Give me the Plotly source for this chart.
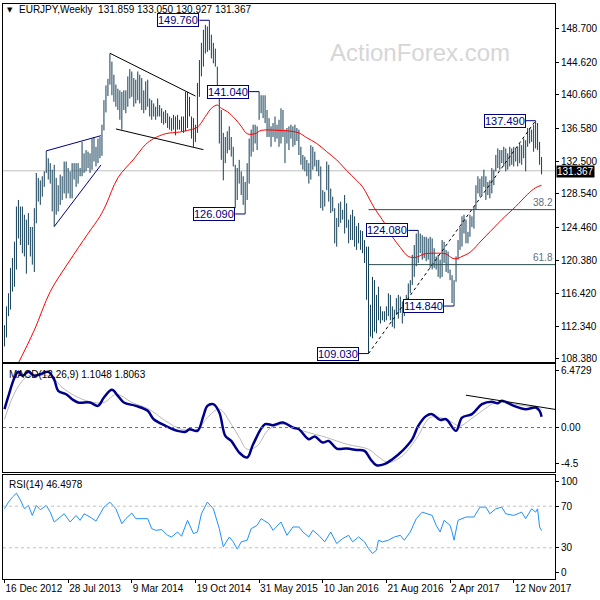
import pandas as pd
import plotly.graph_objects as go

# ---------------- data ----------------
start = pd.Timestamp("2012-12-16")

bar_high = [
    112.5, 114.8, 116.4, 119.5, 120.7, 122.7, 127.0, 127.8, 127.0, 127.0,
    126.0, 125.4, 126.2, 124.5, 124.5, 126.8, 131.1, 130.5, 130.2, 130.7,
    131.3, 133.8, 132.9, 132.3, 131.5, 132.1, 130.5, 129.6, 130.9, 130.7,
    132.5, 132.5, 131.7, 131.3, 132.3, 132.3, 132.3, 132.3, 131.7, 134.9,
    133.5, 133.9, 133.7, 133.5, 135.3, 135.5, 134.3, 135.3, 135.5, 137.0,
    140.0, 141.8, 142.6, 145.7, 144.7, 143.1, 141.9, 141.4, 141.2, 141.0,
    141.2, 141.2, 142.9, 143.8, 143.5, 142.7, 142.5, 143.5, 143.1, 142.7,
    141.2, 142.3, 142.5, 140.2, 140.0, 139.6, 139.2, 140.2, 139.4, 139.0,
    138.6, 138.8, 138.4, 138.0, 137.8, 138.2, 138.0, 138.2, 137.6, 138.0,
    138.0, 141.0, 141.0, 140.4, 138.0, 137.8, 137.0, 142.1, 144.9, 147.0,
    148.6, 149.2, 149.0, 149.76, 148.0, 147.0, 146.3, 144.1, 141.2, 138.8,
    136.0, 135.5, 136.2, 136.8, 135.5, 134.3, 132.1, 131.7, 132.7, 131.3,
    130.7, 130.0, 132.3, 135.3, 136.4, 137.0, 137.0, 136.8, 141.04, 140.6,
    140.6, 140.6, 138.8, 137.8, 136.8, 137.2, 138.0, 137.0, 137.6, 139.0,
    138.8, 136.4, 136.6, 136.8, 137.0, 136.8, 137.0, 136.6, 136.4, 134.3,
    133.3, 133.1, 132.7, 132.3, 134.5, 134.3, 133.7, 132.7, 132.7, 131.9,
    129.0, 128.8, 132.5, 132.1, 129.2, 128.2, 126.8, 125.6, 127.4, 127.6,
    126.6, 128.4, 127.4, 125.4, 126.0, 126.6, 125.8, 124.6, 125.0, 124.1,
    124.0, 122.9, 122.1, 122.1, 115.0, 118.4, 118.0, 116.2, 117.2, 114.8,
    114.2, 114.2, 114.8, 116.4, 116.2, 114.8, 114.4, 115.8, 116.2, 116.0,
    115.4, 115.4, 116.2, 117.6, 118.0, 121.1, 122.3, 123.7, 124.08, 123.7,
    123.5, 123.3, 123.3, 123.1, 123.3, 123.1, 121.9, 120.9, 121.1, 120.5,
    122.9, 122.7, 121.7, 121.5, 119.3, 118.6, 118.0, 120.9, 122.9, 124.5,
    125.8, 126.0, 125.4, 123.9, 126.0, 125.8, 127.0, 129.6, 130.7, 130.4,
    130.7, 131.5, 130.7, 130.0, 130.2, 131.7, 131.5, 133.3, 134.1, 133.9,
    133.9, 134.3, 134.1, 133.5, 134.3, 134.1, 134.3, 134.1, 134.3, 134.7,
    134.5, 135.3, 135.1, 136.6, 136.6, 136.4, 137.0, 137.49, 137.2, 134.9,
    133.05,
]
bar_low = [
    109.9, 111.0, 113.6, 114.4, 116.6, 117.2, 119.3, 123.1, 122.3, 121.3,
    120.9, 118.8, 122.3, 120.9, 119.9, 119.0, 124.95, 127.6, 127.2, 128.2,
    129.4, 131.1, 130.3, 129.8, 126.4, 124.55, 126.0, 126.4, 127.2, 127.8,
    128.6, 128.0, 128.6, 128.0, 128.0, 130.3, 129.4, 129.8, 130.7, 130.7,
    131.1, 131.3, 131.7, 131.1, 131.5, 132.5, 131.9, 132.3, 132.9, 133.2,
    136.3, 138.5, 140.5, 141.9, 140.6, 139.8, 139.2, 138.8, 137.6, 136.4,
    138.8, 138.4, 139.2, 140.2, 140.4, 139.2, 139.6, 140.0, 139.6, 138.8,
    138.4, 138.8, 139.2, 138.0, 137.6, 138.0, 137.6, 138.0, 138.0, 137.2,
    137.0, 137.2, 136.6, 136.4, 136.2, 136.4, 135.7, 136.4, 136.4, 136.2,
    136.0, 136.2, 136.6, 138.0, 135.3, 134.3, 134.9, 136.0, 140.4, 142.9,
    144.1, 145.7, 145.9, 146.1, 145.1, 144.5, 144.1, 140.4, 134.7, 132.7,
    130.2, 132.3, 133.5, 133.9, 133.1, 131.9, 126.8, 127.8, 129.8, 128.4,
    127.2, 126.09, 127.8, 129.8, 133.1, 133.7, 134.7, 133.9, 137.6, 138.4,
    137.8, 137.2, 135.5, 135.5, 134.3, 135.5, 134.9, 135.3, 134.3, 134.7,
    135.5, 132.3, 134.7, 133.9, 135.3, 134.3, 134.5, 135.0, 133.3, 132.1,
    131.5, 131.3, 130.7, 129.8, 130.3, 131.5, 131.9, 131.3, 130.7, 126.8,
    126.5, 127.0, 129.0, 127.6, 126.2, 126.4, 122.5, 122.1, 124.5, 125.0,
    125.4, 123.7, 124.4, 122.5, 122.9, 122.9, 122.1, 121.7, 122.5, 121.7,
    121.3, 120.1, 115.6, 109.03, 111.1, 110.9, 111.7, 111.5, 113.1, 112.7,
    113.1, 112.9, 113.1, 113.6, 113.1, 112.3, 112.1, 113.8, 113.3, 114.0,
    112.7, 113.6, 114.4, 115.4, 116.4, 117.4, 118.4, 119.7, 120.1, 121.3,
    120.5, 120.7, 120.3, 120.5, 119.5, 119.3, 119.5, 119.3, 118.4, 118.2,
    118.4, 120.1, 119.0, 118.85, 118.0, 115.2, 114.84, 117.8, 120.5, 121.7,
    122.1, 123.7, 122.5, 122.5, 123.3, 124.5, 124.3, 126.6, 128.6, 128.2,
    128.4, 129.4, 127.8, 128.4, 128.0, 128.6, 129.6, 131.3, 131.7, 131.5,
    132.3, 131.9, 131.3, 131.5, 131.9, 132.1, 131.9, 132.5, 131.9, 132.3,
    132.1, 132.9, 131.3, 134.3, 134.7, 134.9, 133.7, 134.1, 133.9, 132.1,
    130.93,
]

# red moving average (bar number, value)
ma_idx = [6, 15, 23, 32, 42, 48, 51, 57, 65, 71, 75, 81, 88, 92, 97, 101, 104, 107,
          109, 112, 116, 119, 122, 126, 129, 138, 144, 148, 152, 157, 162, 167, 172,
          177, 180, 186, 191, 195, 199, 203, 207, 211, 217, 222, 225, 227, 230, 234,
          240, 248, 250, 257, 263, 267, 270]
ma_val = [107.4, 111.9, 116.6, 120.1, 123.7, 125.8, 127.2, 130.5, 132.8, 134.6, 135.3,
          135.9, 136.1, 136.3, 136.7, 138.0, 139.0, 139.4, 139.0, 138.6, 137.7, 136.8,
          135.9, 135.9, 136.3, 136.3, 136.2, 136.0, 135.4, 134.7, 133.7, 132.7, 131.4,
          130.2, 129.4, 126.8, 125.0, 123.3, 122.0, 120.9, 120.8, 121.2, 121.3, 121.2,
          120.7, 120.6, 120.9, 121.4, 122.9, 124.9, 125.4, 127.0, 128.5, 129.3, 129.6]

macd_idx = [0, 2, 5, 7, 9, 12, 15, 18, 22, 25, 27, 31, 34, 37, 43, 47, 50, 54, 57, 60,
            66, 72, 75, 81, 87, 91, 93, 97, 100, 102, 105, 108, 111, 114, 118, 122, 125,
            131, 135, 140, 145, 148, 153, 156, 160, 163, 167, 172, 177, 181, 184, 187,
            191, 195, 200, 205, 208, 212, 215, 219, 222, 227, 230, 235, 240, 245, 248,
            250, 256, 262, 267, 269, 270]
macd_val = [1.88, 3.24, 5.1, 5.7, 5.3, 5.7, 5.3, 5.45, 5.7, 4.9, 3.75, 3.41, 2.90, 2.56,
            2.56, 2.22, 3.07, 3.86, 3.24, 2.56, 2.22, 1.71, 0.85, 0.17, -0.34, -0.44,
            -0.17, -0.34, 1.19, 2.22, 2.39, 1.54, -0.85, -1.37, -2.56, -3.07, -1.71,
            0.34, 0.24, 0.51, 0.0, -0.17, -1.19, -0.92, -1.54, -1.37, -2.15, -2.15,
            -2.29, -2.39, -3.24, -3.86, -3.75, -3.24, -2.39, -1.19, 0.17, 1.19, 1.37,
            0.78, 0.85, -0.34, 1.02, 1.37, 2.39, 2.63, 2.49, 2.73, 2.22, 1.88, 2.05,
            1.71, 1.10]

signal_idx = [0, 6, 12, 18, 24, 29, 34, 39, 45, 50, 56, 60, 64, 69, 74, 81, 89, 97, 102,
              108, 114, 118, 122, 127, 133, 141, 150, 162, 172, 183, 188, 193, 200, 204,
              208, 214, 222, 229, 234, 239, 247, 256, 262, 268, 270]
signal_val = [0.85, 3.9, 5.3, 5.4, 5.1, 4.1, 3.4, 2.9, 2.56, 2.56, 3.4, 3.1, 2.56, 2.2,
              1.71, 0.68, -0.17, -0.17, 1.02, 1.88, 0.34, -1.0, -2.22, -1.88, -0.17,
              0.34, -0.34, -1.02, -1.71, -2.22, -3.0, -3.58, -2.9, -2.0, -0.85, 1.02,
              0.85, 0.17, 0.8, 1.54, 2.56, 2.39, 2.2, 2.05, 1.81]

rsi_idx = [0, 2, 4, 6, 8, 9, 10, 12, 14, 16, 18, 21, 23, 25, 28, 30, 33, 36, 38, 40,
           43, 46, 50, 53, 56, 59, 61, 64, 66, 72, 74, 76, 79, 82, 84, 87, 89, 92, 95,
           97, 99, 102, 105, 108, 110, 113, 115, 117, 119, 122, 124, 127, 129, 133, 135,
           139, 142, 145, 148, 150, 153, 155, 158, 161, 164, 167, 170, 173, 175, 178,
           181, 183, 185, 187, 188, 190, 193, 196, 199, 201, 204, 207, 210, 213, 215,
           217, 219, 221, 224, 225, 226, 228, 232, 236, 239, 242, 244, 247, 250, 252,
           256, 260, 262, 265, 267, 268, 269, 270]
rsi_val = [67.5, 73.9, 78.7, 82.5, 76, 72.3, 67.5, 70.7, 61.1, 70.7, 66.6, 70.7, 64.3,
           54.8, 59.6, 62.7, 54.8, 61.1, 56.4, 62.7, 59.6, 55.7, 69.1, 73.9, 67.5, 53.2,
           58, 63.4, 58, 58, 48.4, 46.8, 47.5, 42, 40.4, 45.2, 41.1, 56.4, 43.6, 45.2,
           62.7, 73.9, 67.5, 48.4, 30.9, 40.4, 35.7, 28.7, 35.7, 37.3, 48.4, 51.6, 58,
           53.2, 46.8, 54.8, 42, 50, 50, 45.2, 40.4, 46.8, 42, 35.7, 45.2, 34.1, 38.9,
           42, 35.7, 40.4, 35.7, 29.3, 24.5, 27.7, 37.3, 35.7, 37.3, 40.4, 42, 37.3,
           45.2, 58, 64.3, 62.7, 61.1, 51.6, 45.2, 56.4, 51.6, 45.2, 37.3, 56.4, 59.6,
           59.6, 69.1, 69.1, 62.7, 67.5, 69.1, 62.7, 61.1, 64.3, 58, 67.5, 64.3, 67.5,
           50, 46.5]

price_ticks = [108.38, 112.34, 116.42, 120.38, 124.46, 128.54, 132.5, 136.58, 140.66,
               144.62, 148.7]
date_ticks = ["2012-12-16", "2013-07-28", "2014-03-09", "2014-10-19", "2015-05-31",
              "2016-01-10", "2016-08-21", "2017-04-02", "2017-11-12"]

swing_idx = [103, 128, 121, 183, 208, 226, 267]
swing_price = [149.76, 141.04, 126.09, 109.03, 124.08, 114.84, 137.49]

fib_names = ["38.2", "61.8"]
fib_levels = [126.62, 119.90]
fib_from = 183

last_close = 131.367

# drawn trend lines: (bars, values)
tri_up = ([21, 48.5], [133.8, 135.66])
tri_dn = ([25, 48.5], [124.55, 132.08])
wedge_up = ([53, 96], [145.73, 140.5])
wedge_dn = ([56, 100], [136.48, 133.95])
rise_line = ([183, 267], [109.03, 137.49])
macd_trend = ([232, 277], [3.31, 1.85])


def wk(i):
    return start + pd.Timedelta(weeks=i)


weeks = [wk(i) for i in range(len(bar_high))]
x_end = 276.75
x_range = [wk(-0.75), wk(x_end)]

BAR = "#143f57"
NAVY = "#000080"
FONT = "Liberation Sans, Arial, sans-serif"

fig = go.Figure()

# price bars
bx, by = [], []
for d, lo, hi in zip(weeks, bar_low, bar_high):
    bx += [d, d, None]
    by += [lo, hi, None]
fig.add_trace(go.Scatter(x=bx, y=by, mode="lines", line=dict(color=BAR, width=1),
                         xaxis="x", yaxis="y"))

# moving average
fig.add_trace(go.Scatter(x=[wk(i) for i in ma_idx], y=ma_val, mode="lines",
                         line=dict(color="#ff0000", width=1, shape="spline"),
                         xaxis="x", yaxis="y"))

# trend lines on price
for (bars, vals), col, dash in [(tri_up, NAVY, "solid"), (tri_dn, NAVY, "solid"),
                                (wedge_up, "black", "solid"), (wedge_dn, "black", "solid"),
                                (rise_line, "black", "3px,3px")]:
    fig.add_trace(go.Scatter(x=[wk(b) for b in bars], y=vals, mode="lines",
                             line=dict(color=col, width=1, dash=dash),
                             xaxis="x", yaxis="y"))

# swing label connectors
cx, cy = [], []
for b, p in zip(swing_idx, swing_price):
    cx += [wk(b - 5), wk(b), None]
    cy += [p, p, None]
fig.add_trace(go.Scatter(x=cx, y=cy, mode="lines", line=dict(color=NAVY, width=1),
                         xaxis="x", yaxis="y"))

# MACD
fig.add_trace(go.Scatter(x=[wk(i) for i in signal_idx], y=signal_val, mode="lines",
                         line=dict(color="#b8b8b8", width=1, shape="spline"),
                         xaxis="x2", yaxis="y2"))
fig.add_trace(go.Scatter(x=[wk(i) for i in macd_idx], y=macd_val, mode="lines",
                         line=dict(color="#00008b", width=2.5, shape="spline"),
                         xaxis="x2", yaxis="y2"))
fig.add_trace(go.Scatter(x=[wk(b) for b in macd_trend[0]], y=macd_trend[1], mode="lines",
                         line=dict(color="black", width=1), xaxis="x2", yaxis="y2"))

# RSI
fig.add_trace(go.Scatter(x=[wk(i) for i in rsi_idx], y=rsi_val, mode="lines",
                         line=dict(color="#1e90ff", width=1), xaxis="x3", yaxis="y3"))

shapes = [
    dict(type="line", xref="x domain", yref="y", x0=0, x1=1, y0=last_close, y1=last_close,
         line=dict(color="#c0c0c0", width=1), layer="below"),
    dict(type="line", xref="x2 domain", yref="y2", x0=0, x1=1, y0=0, y1=0,
         line=dict(color="#707070", width=1, dash="3px,3px")),
    dict(type="line", xref="x3 domain", yref="y3", x0=0, x1=1, y0=70, y1=70,
         line=dict(color="#c0c0c0", width=1, dash="3px,3px")),
    dict(type="line", xref="x3 domain", yref="y3", x0=0, x1=1, y0=30, y1=30,
         line=dict(color="#c0c0c0", width=1, dash="3px,3px")),
]
for lvl in fib_levels:
    shapes.append(dict(type="line", xref="x", yref="y", x0=wk(fib_from), x1=wk(x_end),
                       y0=lvl, y1=lvl, line=dict(color="#2f4f4f", width=1)))

annotations = [
    dict(xref="paper", yref="paper", x=0.755, y=0.9165, xanchor="center", yanchor="middle",
         text="ActionForex.com", showarrow=False,
         font=dict(family=FONT, size=24, color="#d6d6d6")),
    dict(xref="paper", yref="paper", x=0.004, y=0.9896, xanchor="left", yanchor="middle",
         text="▼", showarrow=False, font=dict(family="DejaVu Sans", size=7, color="black")),
    dict(xref="paper", yref="paper", x=0.026, y=0.9896, xanchor="left", yanchor="middle",
         text="EURJPY,Weekly  131.859 133.050 130.927 131.367",
         showarrow=False, font=dict(family=FONT, size=10, color="black")),
    dict(xref="paper", yref="paper", x=0.008, y=0.3565, xanchor="left", yanchor="middle",
         text="MACD(12,26,9) 1.1048 1.8063",
         showarrow=False, font=dict(family=FONT, size=10, color="black")),
    dict(xref="paper", yref="paper", x=0.008, y=0.1635, xanchor="left", yanchor="middle",
         text="RSI(14) 46.4978",
         showarrow=False, font=dict(family=FONT, size=10, color="black")),
    dict(xref="paper", yref="y", x=1, xshift=1, y=last_close, yshift=-1, xanchor="left",
         yanchor="middle", text=f"{last_close:.3f}", showarrow=False, bgcolor="black",
         borderpad=0, font=dict(family=FONT, size=10, color="white")),
]
for b, p in zip(swing_idx, swing_price):
    annotations.append(dict(xref="x", yref="y", x=wk(b - 5), y=p, xanchor="right",
                            yanchor="middle", text=f"{p:.3f}", showarrow=False,
                            bgcolor="white", bordercolor=NAVY, borderwidth=1, borderpad=0,
                            font=dict(family=FONT, size=11, color=NAVY)))
for name, lvl in zip(fib_names, fib_levels):
    annotations.append(dict(xref="x", yref="y", x=wk(x_end), y=lvl, xanchor="right",
                            yanchor="bottom", text=name, showarrow=False,
                            font=dict(family=FONT, size=10, color="#5f7080")))

axis_x = dict(type="date", range=x_range, showgrid=False, zeroline=False, showline=True,
              mirror=True, linecolor="black", linewidth=1)
axis_y = dict(side="right", showgrid=False, zeroline=False, showline=True, mirror=True,
              linecolor="black", linewidth=1, ticks="outside", ticklen=3,
              tickcolor="black", tickfont=dict(family=FONT, size=10, color="black"))

fig.update_layout(
    width=600, height=600,
    margin=dict(l=2, r=43, t=4, b=21),
    paper_bgcolor="white", plot_bgcolor="white",
    showlegend=False, hovermode=False,
    shapes=shapes, annotations=annotations,
    xaxis=dict(axis_x, anchor="y", showticklabels=False),
    xaxis2=dict(axis_x, anchor="y2", showticklabels=False, matches="x"),
    xaxis3=dict(axis_x, anchor="y3", matches="x",
                tickvals=date_ticks,
                ticktext=[pd.Timestamp(d).strftime("%-d %b %Y") for d in date_ticks],
                ticks="outside", ticklen=3, tickcolor="black", tickangle=0,
                ticklabelposition="outside right",
                tickfont=dict(family=FONT, size=10, color="black")),
    yaxis=dict(axis_y, domain=[0.3774, 1], range=[108.0, 151.75], anchor="x",
               tickvals=price_ticks, ticktext=[f"{v:.3f}" for v in price_ticks]),
    yaxis2=dict(axis_y, domain=[0.1866, 0.3734], range=[-4.52, 6.4729], anchor="x2",
                tickvals=[5.86, 0, -3.7], ticktext=["6.4729", "0.00", "-4.5"]),
    yaxis3=dict(axis_y, domain=[0, 0.1809], range=[0, 100], anchor="x3",
                tickvals=[93.3, 70, 30, 6], ticktext=["100", "70", "30", "0"]),
)

# page body has a default 8px margin; remove it so the figure sits at the window corner
fig.write_html("out.html", config={"displayModeBar": False},
               post_script="document.body.style.margin='0px';")
